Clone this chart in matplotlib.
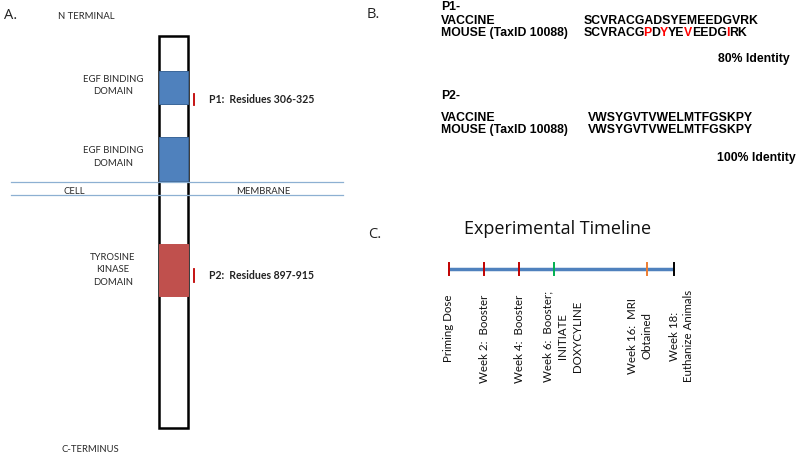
import matplotlib
matplotlib.use("Agg")
import matplotlib.pyplot as plt
from matplotlib.patches import Rectangle
from matplotlib.font_manager import FontProperties, findfont, get_font

# ---------------- data ----------------
# Panel A: protein bar (diagram units along the bar, 0 = N terminus)
bar_length = 392
domain_labels = ["EGF BINDING\nDOMAIN", "EGF BINDING\nDOMAIN", "TYROSINE\nKINASE\nDOMAIN"]
domain_start = [35, 101, 208]
domain_end = [68, 145, 260]
domain_colors = ["#4f81bd", "#4f81bd", "#c0504d"]
domain_edges = ["#3a6698", "#3a6698", "#c0504d"]
peptide_labels = ["P1:  Residues 306-325", "P2:  Residues 897-915"]
peptide_start = [58, 233]
peptide_end = [69, 246]
membrane_pos = [145.7, 159]

# Panel B: sequence alignment
pep_names = ["P1-", "P2-"]
vaccine_seqs = ["SCVRACGADSYEMEEDGVRK", "VWSYGVTVWELMTFGSKPY"]
mouse_seqs = ["SCVRACGPDYYEVEEDGIRK", "VWSYGVTVWELMTFGSKPY"]
identity = ["80% Identity", "100% Identity"]

# Panel C: timeline (relative layout positions)
event_pos = [0, 1, 2, 3, 5.63, 6.42]
event_colors = ["#c00000", "#c00000", "#c00000", "#00b050", "#ed7d31", "#000000"]
event_labels = ["Priming Dose", "Week 2:  Booster", "Week 4:  Booster",
                "Week 6:  Booster;\nINITIATE\nDOXYCYLINE",
                "Week 16:  MRI\nObtained", "Week 18:\nEuthanize Animals"]
label_dx = [0, 0, 0, 0.24, -0.2, 0.2]

# ---------------- figure ----------------
W, H = 800, 454
DPI = 100
fig = plt.figure(figsize=(W / DPI, H / DPI), dpi=DPI)
ax = fig.add_axes([0, 0, 1, 1])
ax.set_xlim(0, W)
ax.set_ylim(H, 0)
ax.axis("off")

SANS = ["Lato", "DejaVu Sans"]
OPEN = ["Open Sans", "DejaVu Sans"]
ARIAL = ["Liberation Sans", "DejaVu Sans"]
gray = "#2a2a2a"
fsA = 6.8

# panel letters
ax.text(4, 18.6, "A.", fontsize=10.5, family=OPEN, color="#222", va="baseline")
ax.text(367, 18.0, "B.", fontsize=10.5, family=OPEN, color="#222", va="baseline")
ax.text(368, 237.8, "C.", fontsize=10.5, family=OPEN, color="#222", va="baseline")

# ---------------- Panel A ----------------
bx0, bw, by0 = 159, 29, 36
ax.add_patch(Rectangle((bx0, by0), bw, bar_length, fill=False, ec="black", lw=1.8, zorder=2))
for lab, s, e, c, ec in zip(domain_labels, domain_start, domain_end, domain_colors, domain_edges):
    ax.add_patch(Rectangle((bx0 - 0.3, by0 + s), bw + 0.6, e - s, fc=c, ec=ec, lw=0.7, zorder=3))
    nl = lab.count("\n") + 1
    ax.text(113, by0 + (s + e) / 2 - (2 if nl == 2 else 0), lab, fontsize=fsA, family=SANS,
            color=gray, ha="center", va="center", linespacing=1.45, multialignment="center")

for lab, s, e in zip(peptide_labels, peptide_start, peptide_end):
    ax.plot([194, 194], [by0 + s, by0 + e], color="#c00000", lw=1.3, zorder=4)
    ax.text(209, by0 + (s + e) / 2, lab, fontsize=7.6, family=SANS, weight="bold",
            color="#222", ha="left", va="center")

for m in membrane_pos:
    ax.plot([11, 343], [by0 + m, by0 + m], color="#8db0d2", lw=0.9, zorder=5)
ax.text(74, 191, "CELL", fontsize=fsA, family=SANS, color=gray, ha="center", va="center")
ax.text(263, 191, "MEMBRANE", fontsize=fsA, family=SANS, color=gray, ha="center", va="center")
ax.text(58, 16.3, "N TERMINAL", fontsize=fsA, family=SANS, color=gray, ha="left", va="center")
ax.text(61, 450, "C-TERMINUS", fontsize=fsA, family=SANS, color=gray, ha="left", va="center")

# ---------------- Panel B ----------------
fsB = 8.8
name_base = [10.5, 99]
vac_base = [24, 121]
mouse_base = [36.3, 133]
seq_x = [583.3, 588.3]
id_right = [790, 796]
id_base = [61.7, 161]
kw = dict(fontsize=fsB, family=ARIAL, weight="bold", va="baseline")

_ft = get_font(findfont(FontProperties(family=ARIAL, weight="bold", size=fsB)), hinting_factor=1)
_ft.set_size(fsB, DPI)


def pen_advance(s):
    """Pen position (pixels) after laying out string s."""
    x, prev = 0.0, None
    for ch in s:
        g = _ft.load_char(ord(ch))
        idx = _ft.get_char_index(ord(ch))
        if prev is not None:
            try:
                x += _ft.get_kerning(prev, idx, 0) / 64.0
            except Exception:
                pass
        x += g.linearHoriAdvance / 65536.0
        prev = idx
    return x


for i in range(2):
    ax.text(441, name_base[i], pep_names[i], **kw)
    ax.text(441, vac_base[i], "VACCINE", **kw)
    ax.text(441, mouse_base[i], "MOUSE (TaxID 10088)", **kw)
    ax.text(seq_x[i], vac_base[i], vaccine_seqs[i], **kw)
    v, mseq = vaccine_seqs[i], mouse_seqs[i]
    # split mouse sequence into runs: matching (black) / mismatching (red)
    runs = []
    for k, ch in enumerate(mseq):
        col = "black" if (k < len(v) and v[k] == ch) else "#ff0000"
        if runs and runs[-1][2] == col:
            runs[-1][1] = k + 1
        else:
            runs.append([k, k + 1, col])
    for a, b, col in runs:
        ax.text(seq_x[i] + pen_advance(mseq[:a]), mouse_base[i], mseq[a:b], color=col, **kw)
    ax.text(id_right[i], id_base[i], identity[i], ha="right", **kw)

# ---------------- Panel C ----------------
ax.text(558, 234.5, "Experimental Timeline", fontsize=13, family=OPEN, color="#111",
        ha="center", va="baseline")

x0, x1 = 449, 674.3
axt = fig.add_axes([x0 / W, 0, (x1 - x0) / W, 1])
axt.set_xlim(0, event_pos[-1])
axt.set_ylim(H, 0)
axt.axis("off")
axt.plot([event_pos[0], event_pos[-1]], [269, 269], color="#4f81bd", lw=2.5,
         solid_capstyle="butt", zorder=1, clip_on=False)
for p, c in zip(event_pos, event_colors):
    axt.plot([p, p], [263.3, 275], color=c, lw=1.4, zorder=2, clip_on=False)
for p, lab, dx in zip(event_pos, event_labels, label_dx):
    if "\n" in lab:
        axt.text(p + dx, 336, lab, rotation=90, fontsize=8.3, family=SANS, color="#111",
                 ha="center", va="center", linespacing=1.4, multialignment="center")
    else:
        axt.text(p + dx, 295, lab, rotation=90, fontsize=8.3, family=SANS, color="#111",
                 ha="center", va="top")

fig.savefig("out.png", dpi=DPI)
